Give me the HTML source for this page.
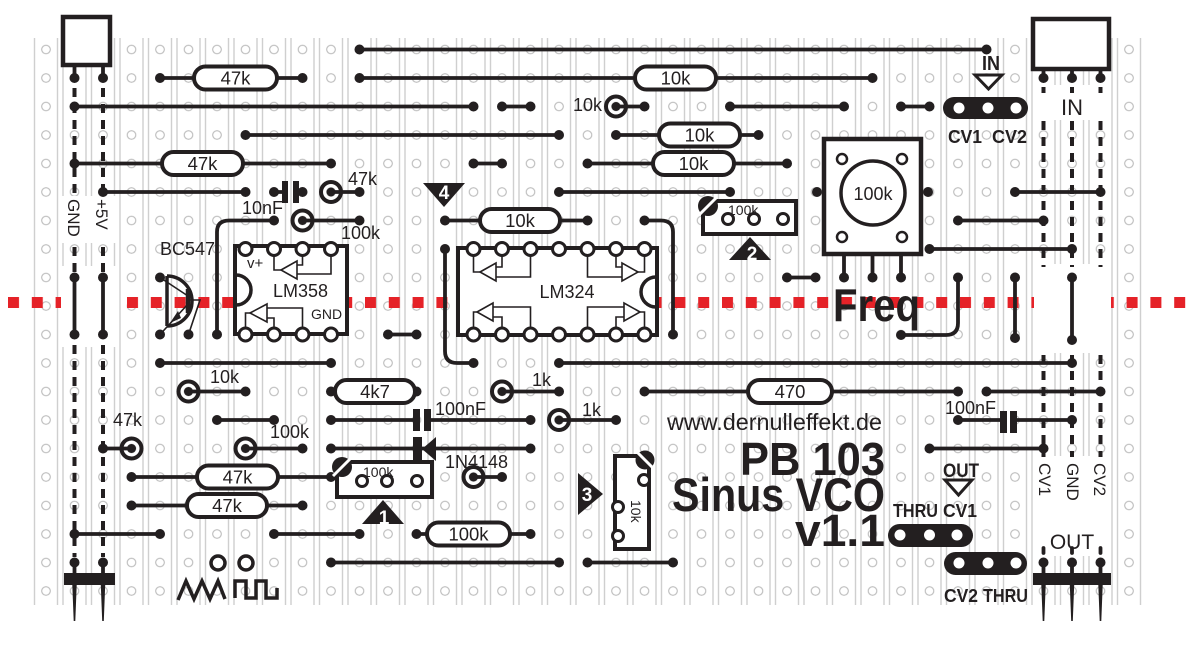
<!DOCTYPE html>
<html><head><meta charset="utf-8"><style>
html,body{margin:0;padding:0;background:#fff;}
svg{display:block;}
.w{stroke:#231f20;stroke-width:3.8;fill:none;stroke-linecap:round;stroke-linejoin:round}
.d{fill:#231f20}
.t{font-family:"Liberation Sans",sans-serif;fill:#231f20}
.b{font-family:"Liberation Sans",sans-serif;font-weight:bold;fill:#231f20}
.r{fill:#fff;stroke:#231f20;stroke-width:4}
.ring{fill:none;stroke:#231f20;stroke-width:4}
.pin{fill:#fff;stroke:#231f20;stroke-width:3}
.th{stroke:#231f20;stroke-width:1.6;fill:none}
.tri{stroke:#231f20;stroke-width:1.6;fill:#fff}
.dash{stroke:#231f20;stroke-width:4;stroke-dasharray:9 7;fill:none}
</style></head><body>
<svg width="1193" height="660" viewBox="0 0 1193 660" xmlns="http://www.w3.org/2000/svg">
<defs>
<pattern id="p" x="31.75" y="35.25" width="28.5" height="28.5" patternUnits="userSpaceOnUse">
<line x1="2.75" y1="0" x2="2.75" y2="28.5" stroke="#c6c6c6" stroke-width="1.2"/>
<line x1="25.75" y1="0" x2="25.75" y2="28.5" stroke="#c6c6c6" stroke-width="1.2"/>
<circle cx="14.25" cy="14.25" r="4.3" fill="none" stroke="#b4b4b4" stroke-width="1"/>
</pattern>
<pattern id="red" x="8" y="297" width="23.8" height="11" patternUnits="userSpaceOnUse">
<rect width="11" height="11" fill="#e52228"/>
</pattern>
</defs>
<rect width="1193" height="660" fill="#fff"/>
<rect x="31.75" y="38" width="1111.5" height="567" fill="url(#p)"/>
<rect x="8" y="297" width="1178" height="11" fill="url(#red)"/>
<!-- white areas -->
<rect x="61" y="196" width="55" height="47" fill="#fff"/>
<rect x="61" y="266" width="55" height="81" fill="#fff"/>
<rect x="1034" y="85" width="77" height="35" fill="#fff"/>
<rect x="1034" y="264" width="77" height="89" fill="#fff"/>
<rect x="1034" y="456" width="77" height="100" fill="#fff"/>

<!-- dashed header wires -->
<path class="dash" d="M74.5,88V196M103,88V196M74.5,247V272M103,247V272M74.5,345V557M103,345V557"/>
<path class="dash" d="M1043.5,87V93M1072,87V93M1100.5,87V93M1043.5,121V267M1072,121V267M1100.5,121V267"/>
<path class="dash" d="M1043.5,355V457M1072,355V457M1100.5,355V457"/>
<path class="w" stroke-linecap="butt" d="M1043.5,548V553M1072,548V553M1100.5,548V553"/>

<!-- horizontal wires -->
<path class="w" d="
M359.5,49.5H986.5
M160,78H302.5 M359.5,78H872.5
M74.5,106.5H473.5 M502,106.5H530.5 M616,106.5H644.5 M730,106.5H844 M901,106.5H929.5
M245.5,135H559 M616,135H758.5
M74.5,163.5H331 M473.5,163.5H502 M587.5,163.5H787
M103,192H245.5 M274,192H283 M298,192H302.5 M331,192H359.5 M559,192H730 M1015,192H1100.5
M302.5,220.5H359.5 M445,220.5H587.5 M958,220.5H1043.5
M929.5,249H1072
M787,277.5H815.5
M388,334.5H416.5
M160,363H331 M559,363H1072
M188.5,391.5H245.5 M331,391.5H416.5 M502,391.5H559 M644.5,391.5H958 M986.5,391.5H1100.5
M217,420H274 M331,420H413 M431,420H530.5 M559,420H616 M958,420H1000 M1017,420H1072
M103,448.5H131.5 M245.5,448.5H302.5 M331,448.5H530.5 M929.5,448.5H1043.5
M131.5,477H331 M473.5,477H502
M131.5,505.5H302.5
M74.5,534H160 M274,534H359.5 M416.5,534H530.5
M331,562.5H559 M587.5,562.5H673
"/>
<!-- vertical / curved wires -->
<path class="w" d="
M217,334.5V232Q217,220.5 229,220.5H274
M644.5,220.5H661Q673,220.5 673,232V334.5
M445,249V351Q445,363 457,363H473.5
M958,277.5V323Q958,335 946,335H901
M1015,277.5V338 M1072,277.5V340
M74.5,277.5V334.5 M103,277.5V334.5
M74.5,65V78 M103,65V78 M1043.5,69V78 M1072,69V78 M1100.5,69V78
M74.5,562.5V585 M103,562.5V585 M1043.5,562.5V585 M1072,562.5V585 M1100.5,562.5V585
M844,254V277.5 M872.5,254V277.5 M901,254V277.5
"/>

<!-- header pins bottom -->
<rect x="64" y="573" width="51" height="12" fill="#231f20"/>
<rect x="1033" y="573" width="78" height="12" fill="#231f20"/>
<g fill="#231f20">
<polygon points="72.3,585 76.7,585 75.3,621 73.7,621"/>
<polygon points="100.8,585 105.2,585 103.8,621 102.2,621"/>
<polygon points="1041.3,585 1045.7,585 1044.3,621 1042.7,621"/>
<polygon points="1069.8,585 1074.2,585 1072.8,621 1071.2,621"/>
<polygon points="1098.3,585 1102.7,585 1101.3,621 1099.7,621"/>
</g>
<!-- header boxes top -->
<rect x="63" y="17" width="47" height="48" fill="#fff" stroke="#231f20" stroke-width="4.5"/>
<rect x="1033" y="19" width="76" height="50" fill="#fff" stroke="#231f20" stroke-width="4.5"/>

<!-- dots -->
<g class="d">
<circle cx="359.5" cy="49.5" r="5"/><circle cx="986.5" cy="49.5" r="5"/>
<circle cx="160" cy="78" r="5"/><circle cx="302.5" cy="78" r="5"/><circle cx="359.5" cy="78" r="5"/><circle cx="872.5" cy="78" r="5"/>
<circle cx="74.5" cy="78" r="5"/><circle cx="103" cy="78" r="5"/><circle cx="1043.5" cy="78" r="5"/><circle cx="1072" cy="78" r="5"/><circle cx="1100.5" cy="78" r="5"/>
<circle cx="74.5" cy="106.5" r="5"/><circle cx="473.5" cy="106.5" r="5"/><circle cx="502" cy="106.5" r="5"/><circle cx="530.5" cy="106.5" r="5"/><circle cx="644.5" cy="106.5" r="5"/><circle cx="730" cy="106.5" r="5"/><circle cx="844" cy="106.5" r="5"/><circle cx="901" cy="106.5" r="5"/><circle cx="929.5" cy="106.5" r="5"/>
<circle cx="245.5" cy="135" r="5"/><circle cx="559" cy="135" r="5"/><circle cx="616" cy="135" r="5"/><circle cx="758.5" cy="135" r="5"/>
<circle cx="74.5" cy="163.5" r="5"/><circle cx="331" cy="163.5" r="5"/><circle cx="473.5" cy="163.5" r="5"/><circle cx="502" cy="163.5" r="5"/><circle cx="587.5" cy="163.5" r="5"/><circle cx="787" cy="163.5" r="5"/>
<circle cx="103" cy="192" r="5"/><circle cx="245.5" cy="192" r="5"/><circle cx="274" cy="192" r="5"/><circle cx="302.5" cy="192" r="5"/><circle cx="359.5" cy="192" r="5"/><circle cx="559" cy="192" r="5"/><circle cx="730" cy="192" r="5"/><circle cx="817" cy="192" r="5"/><circle cx="928" cy="192" r="5"/><circle cx="1015" cy="192" r="5"/><circle cx="1100.5" cy="192" r="5"/>
<circle cx="274" cy="220.5" r="5"/><circle cx="359.5" cy="220.5" r="5"/><circle cx="445" cy="220.5" r="5"/><circle cx="587.5" cy="220.5" r="5"/><circle cx="644.5" cy="220.5" r="5"/><circle cx="958" cy="220.5" r="5"/><circle cx="1043.5" cy="220.5" r="5"/>
<circle cx="929.5" cy="249" r="5"/><circle cx="1072" cy="249" r="5"/><circle cx="445" cy="249" r="5"/>
<circle cx="787" cy="277.5" r="5"/><circle cx="815.5" cy="277.5" r="5"/><circle cx="160" cy="277.5" r="5"/><circle cx="74.5" cy="277.5" r="5"/><circle cx="103" cy="277.5" r="5"/><circle cx="958" cy="277.5" r="5"/><circle cx="1015" cy="277.5" r="5"/><circle cx="1072" cy="277.5" r="5"/><circle cx="844" cy="277.5" r="5"/><circle cx="872.5" cy="277.5" r="5"/><circle cx="901" cy="277.5" r="5"/>
<circle cx="388" cy="334.5" r="5"/><circle cx="416.5" cy="334.5" r="5"/><circle cx="160" cy="334.5" r="5"/><circle cx="188.5" cy="334.5" r="5"/><circle cx="217" cy="334.5" r="5"/><circle cx="673" cy="334.5" r="5"/><circle cx="901" cy="335" r="5"/><circle cx="74.5" cy="334.5" r="5"/><circle cx="103" cy="334.5" r="5"/><circle cx="1015" cy="338" r="5"/><circle cx="1072" cy="340" r="5"/>
<circle cx="473.5" cy="363" r="5"/><circle cx="160" cy="363" r="5"/><circle cx="331" cy="363" r="5"/><circle cx="559" cy="363" r="5"/><circle cx="1072" cy="363" r="5"/>
<circle cx="245.5" cy="391.5" r="5"/><circle cx="331" cy="391.5" r="5"/><circle cx="416.5" cy="391.5" r="5"/><circle cx="559" cy="391.5" r="5"/><circle cx="644.5" cy="391.5" r="5"/><circle cx="958" cy="391.5" r="5"/><circle cx="986.5" cy="391.5" r="5"/><circle cx="1100.5" cy="391.5" r="5"/>
<circle cx="217" cy="420" r="5"/><circle cx="274" cy="420" r="5"/><circle cx="331" cy="420" r="5"/><circle cx="530.5" cy="420" r="5"/><circle cx="616" cy="420" r="5"/><circle cx="958" cy="420" r="5"/><circle cx="1072" cy="420" r="5"/>
<circle cx="103" cy="448.5" r="5"/><circle cx="302.5" cy="448.5" r="5"/><circle cx="331" cy="448.5" r="5"/><circle cx="530.5" cy="448.5" r="5"/><circle cx="929.5" cy="448.5" r="5"/><circle cx="1043.5" cy="448.5" r="5"/>
<circle cx="131.5" cy="477" r="5"/><circle cx="331" cy="477" r="5"/><circle cx="502" cy="477" r="5"/>
<circle cx="131.5" cy="505.5" r="5"/><circle cx="302.5" cy="505.5" r="5"/>
<circle cx="74.5" cy="534" r="5"/><circle cx="160" cy="534" r="5"/><circle cx="274" cy="534" r="5"/><circle cx="359.5" cy="534" r="5"/><circle cx="416.5" cy="534" r="5"/><circle cx="530.5" cy="534" r="5"/>
<circle cx="331" cy="562.5" r="5"/><circle cx="559" cy="562.5" r="5"/><circle cx="587.5" cy="562.5" r="5"/><circle cx="673" cy="562.5" r="5"/><circle cx="74.5" cy="562.5" r="5"/><circle cx="103" cy="562.5" r="5"/><circle cx="1043.5" cy="562.5" r="5"/><circle cx="1072" cy="562.5" r="5"/><circle cx="1100.5" cy="562.5" r="5"/>
</g>

<!-- vertical resistors (rings) -->
<g>
<circle class="ring" cx="616" cy="106.5" r="10"/><circle class="d" cx="616" cy="106.5" r="4.5"/>
<circle class="ring" cx="331" cy="192" r="10"/><circle class="d" cx="331" cy="192" r="4.5"/>
<circle class="ring" cx="302.5" cy="220.5" r="10"/><circle class="d" cx="302.5" cy="220.5" r="4.5"/>
<circle class="ring" cx="188.5" cy="391.5" r="10"/><circle class="d" cx="188.5" cy="391.5" r="4.5"/>
<circle class="ring" cx="502" cy="391.5" r="10"/><circle class="d" cx="502" cy="391.5" r="4.5"/>
<circle class="ring" cx="559" cy="420" r="10"/><circle class="d" cx="559" cy="420" r="4.5"/>
<circle class="ring" cx="131.5" cy="448.5" r="10"/><circle class="d" cx="131.5" cy="448.5" r="4.5"/>
<circle class="ring" cx="245.5" cy="448.5" r="10"/><circle class="d" cx="245.5" cy="448.5" r="4.5"/>
<circle class="ring" cx="473.5" cy="477" r="10"/><circle class="d" cx="473.5" cy="477" r="4.5"/>
</g>

<!-- axial resistors -->
<g>
<rect class="r" x="194" y="66.5" width="83" height="23" rx="11.5"/>
<rect class="r" x="635" y="66.5" width="81" height="23" rx="11.5"/>
<rect class="r" x="659" y="123.5" width="81" height="23" rx="11.5"/>
<rect class="r" x="162" y="152" width="81" height="23" rx="11.5"/>
<rect class="r" x="653" y="152" width="81" height="23" rx="11.5"/>
<rect class="r" x="480" y="209" width="80" height="23" rx="11.5"/>
<rect class="r" x="335" y="380" width="80" height="23" rx="11.5"/>
<rect class="r" x="748" y="380" width="84" height="23" rx="11.5"/>
<rect class="r" x="197" y="465.5" width="81" height="23" rx="11.5"/>
<rect class="r" x="187" y="494" width="80" height="23" rx="11.5"/>
<rect class="r" x="427" y="522.5" width="83" height="23" rx="11.5"/>
</g>
<g class="t" font-size="18.5" text-anchor="middle">
<text x="235.5" y="84.5">47k</text>
<text x="675.5" y="84.5">10k</text>
<text x="699.5" y="141.5">10k</text>
<text x="202.5" y="170">47k</text>
<text x="693.5" y="170">10k</text>
<text x="520" y="227">10k</text>
<text x="375" y="398">4k7</text>
<text x="790" y="398">470</text>
<text x="237.5" y="483.5">47k</text>
<text x="227" y="512">47k</text>
<text x="468.5" y="540.5">100k</text>
</g>

<!-- capacitors -->
<g fill="#231f20">
<rect x="282" y="181" width="6" height="22"/><rect x="293" y="181" width="6" height="22"/>
<rect x="413" y="409" width="7" height="22"/><rect x="424" y="409" width="7" height="22"/>
<rect x="1000" y="411" width="7" height="22"/><rect x="1010" y="411" width="7" height="22"/>
</g>

<!-- LM358 -->
<rect x="235" y="246" width="112" height="88" fill="#fff" stroke="#231f20" stroke-width="4"/>
<path d="M236,275A15,15 0 0 1 236,305" fill="none" stroke="#231f20" stroke-width="3.5"/>
<path class="th" d="M274,255V270H281M297,265H302.5V255M297,274H331V255"/>
<polygon class="tri" points="281,270 297,261 297,279"/>
<path class="th" d="M245.5,328V313H250M267,308H302.5V328M267,318H274V328"/>
<polygon class="tri" points="250,313 267,304 267,322"/>
<g class="pin">
<circle cx="245.5" cy="249" r="6.5"/><circle cx="274" cy="249" r="6.5"/><circle cx="302.5" cy="249" r="6.5"/><circle cx="331" cy="249" r="6.5"/>
<circle cx="245.5" cy="334.5" r="6.5"/><circle cx="274" cy="334.5" r="6.5"/><circle cx="302.5" cy="334.5" r="6.5"/><circle cx="331" cy="334.5" r="6.5"/>
</g>
<text class="t" x="247" y="268" font-size="15">v+</text>
<text class="t" x="273" y="297" font-size="18">LM358</text>
<text class="t" x="311" y="319" font-size="14">GND</text>

<!-- LM324 -->
<rect x="458" y="248" width="199" height="87" fill="#fff" stroke="#231f20" stroke-width="4"/>
<path d="M656,277A15,15 0 0 0 656,307" fill="none" stroke="#231f20" stroke-width="3.5"/>
<path class="th" d="M473.5,255V272H480M496,267H502V255M496,277H530.5V255"/>
<polygon class="tri" points="480,272 496,263 496,281"/>
<path class="th" d="M644.5,255V272H638M622,267H616V255M622,277H587.5V255"/>
<polygon class="tri" points="638,272 622,263 622,281"/>
<path class="th" d="M473.5,328V312H477M493,317H502V328M493,307H530.5V328"/>
<polygon class="tri" points="477,312 493,303 493,321"/>
<path class="th" d="M644.5,328V312H640M624,317H616V328M624,307H587.5V328"/>
<polygon class="tri" points="640,312 624,303 624,321"/>
<g class="pin">
<circle cx="473.5" cy="249" r="6.5"/><circle cx="502" cy="249" r="6.5"/><circle cx="530.5" cy="249" r="6.5"/><circle cx="559" cy="249" r="6.5"/><circle cx="587.5" cy="249" r="6.5"/><circle cx="616" cy="249" r="6.5"/><circle cx="644.5" cy="249" r="6.5"/>
<circle cx="473.5" cy="334.5" r="6.5"/><circle cx="502" cy="334.5" r="6.5"/><circle cx="530.5" cy="334.5" r="6.5"/><circle cx="559" cy="334.5" r="6.5"/><circle cx="587.5" cy="334.5" r="6.5"/><circle cx="616" cy="334.5" r="6.5"/><circle cx="644.5" cy="334.5" r="6.5"/>
</g>
<text class="t" x="567" y="298" font-size="18" text-anchor="middle">LM324</text>

<!-- BC547 -->
<path d="M167,276V326M167,276A25,25 0 0 1 167,326" fill="none" stroke="#231f20" stroke-width="3.5"/>
<path d="M188,289V313" stroke="#231f20" stroke-width="4.5"/>
<path class="th" stroke-width="2" d="M160,277.5L188,296M188,304L160,334.5M188,300H200L188.5,334.5"/>
<polygon points="170,323 178,311 181,318" fill="#231f20"/>
<text class="t" x="160" y="255" font-size="18">BC547</text>

<!-- Pot -->
<rect x="824" y="139" width="97" height="115" fill="#fff" stroke="#231f20" stroke-width="4.5"/>
<circle cx="873" cy="193" r="32" fill="none" stroke="#231f20" stroke-width="3.5"/>
<g fill="#fff" stroke="#231f20" stroke-width="2.5">
<circle cx="842" cy="159" r="5"/><circle cx="902" cy="159" r="5"/><circle cx="842" cy="237" r="5"/><circle cx="902" cy="237" r="5"/>
</g>
<text class="t" x="873" y="200" font-size="18" text-anchor="middle">100k</text>
<text class="b" x="833" y="321" font-size="46" textLength="87" lengthAdjust="spacingAndGlyphs">Freq</text>

<!-- Diode -->
<rect x="413" y="437" width="9" height="26" fill="#231f20"/>
<polygon points="422,449 436,437 436,461" fill="#231f20"/>

<!-- Trimmers -->
<rect x="703" y="201" width="93" height="33" fill="#fff" stroke="#231f20" stroke-width="4"/>
<circle cx="708" cy="206" r="10" fill="#231f20"/>
<line x1="699" y1="215" x2="717" y2="197" stroke="#fff" stroke-width="3"/>
<g class="pin" stroke-width="2.5"><circle cx="728" cy="219" r="5.5"/><circle cx="754" cy="219" r="5.5"/><circle cx="783" cy="219" r="5.5"/></g>
<text class="t" x="728" y="215" font-size="14">100k</text>

<rect x="337" y="462" width="95" height="35" fill="#fff" stroke="#231f20" stroke-width="4"/>
<circle cx="342" cy="467" r="10" fill="#231f20"/>
<line x1="333" y1="476" x2="351" y2="458" stroke="#fff" stroke-width="3"/>
<g class="pin" stroke-width="2.5"><circle cx="362" cy="481" r="5.5"/><circle cx="387" cy="481" r="5.5"/><circle cx="417" cy="481" r="5.5"/></g>
<text class="t" x="363" y="477" font-size="14">100k</text>

<rect x="615" y="456" width="34" height="93" fill="#fff" stroke="#231f20" stroke-width="4"/>
<circle cx="645" cy="460" r="9.5" fill="#231f20"/>
<line x1="637" y1="452" x2="653" y2="468" stroke="#fff" stroke-width="3"/>
<g class="pin" stroke-width="2.5"><circle cx="644" cy="480" r="5.5"/><circle cx="618" cy="507" r="5.5"/><circle cx="618" cy="536" r="5.5"/></g>
<text class="t" font-size="14" transform="translate(631,500) rotate(90)">10k</text>

<!-- triangle markers -->
<polygon points="383,500 362,524 404,524" fill="#231f20"/>
<text class="b" x="384" y="524" font-size="19" fill="#fff" style="fill:#fff" text-anchor="middle">1</text>
<polygon points="750,237 729,260 771,260" fill="#231f20"/>
<text class="b" x="752" y="260" font-size="19" style="fill:#fff" text-anchor="middle">2</text>
<polygon points="578,473 603,494 578,515" fill="#231f20"/>
<text class="b" x="587" y="501" font-size="19" style="fill:#fff" text-anchor="middle">3</text>
<polygon points="423,183 465,183 444,207" fill="#231f20"/>
<text class="b" x="444" y="199" font-size="19" style="fill:#fff" text-anchor="middle">4</text>

<!-- waveforms -->
<circle cx="218" cy="563" r="7" fill="#fff" stroke="#231f20" stroke-width="3.5"/>
<circle cx="246" cy="563" r="7" fill="#fff" stroke="#231f20" stroke-width="3.5"/>
<path d="M178,600L186,581L194,599L202,581L210,599L218,581L225,599" fill="none" stroke="#231f20" stroke-width="3.5" stroke-linejoin="miter"/>
<path d="M235,598V581H246V598H256V581H266V598H277V588" fill="none" stroke="#231f20" stroke-width="3.5"/>

<!-- jumper selectors -->
<rect x="943" y="97" width="85" height="22" rx="11" fill="#231f20"/>
<g fill="#fff"><circle cx="959" cy="108" r="5.5"/><circle cx="988" cy="108" r="5.5"/><circle cx="1016" cy="108" r="5.5"/></g>
<text class="b" x="991" y="70" font-size="20" text-anchor="middle" textLength="18" lengthAdjust="spacingAndGlyphs">IN</text>
<polygon points="975,75 1002,75 988.5,89" fill="#fff" stroke="#231f20" stroke-width="3"/>
<text class="b" x="948" y="143" font-size="18" textLength="34" lengthAdjust="spacingAndGlyphs">CV1</text>
<text class="b" x="992" y="143" font-size="18" textLength="35" lengthAdjust="spacingAndGlyphs">CV2</text>

<rect x="888" y="524" width="85" height="23" rx="11.5" fill="#231f20"/>
<g fill="#fff"><circle cx="900" cy="535" r="5.5"/><circle cx="929.5" cy="535" r="5.5"/><circle cx="957" cy="535" r="5.5"/></g>
<text class="b" x="943" y="477" font-size="19" textLength="36" lengthAdjust="spacingAndGlyphs">OUT</text>
<polygon points="945,480 972,480 958.5,495" fill="#fff" stroke="#231f20" stroke-width="3"/>
<text class="b" x="893" y="517" font-size="18" textLength="45" lengthAdjust="spacingAndGlyphs">THRU</text>
<text class="b" x="943" y="517" font-size="18" textLength="34" lengthAdjust="spacingAndGlyphs">CV1</text>

<rect x="944" y="552" width="83" height="23" rx="11.5" fill="#231f20"/>
<g fill="#fff"><circle cx="959" cy="563" r="5.5"/><circle cx="988" cy="563" r="5.5"/><circle cx="1016" cy="563" r="5.5"/></g>
<text class="b" x="944" y="602" font-size="18" textLength="34" lengthAdjust="spacingAndGlyphs">CV2</text>
<text class="b" x="983" y="602" font-size="18" textLength="45" lengthAdjust="spacingAndGlyphs">THRU</text>

<!-- header labels -->
<text class="t" font-size="17" transform="translate(68,199) rotate(90)">GND</text>
<text class="t" font-size="17" transform="translate(96,199) rotate(90)">+5V</text>
<text class="t" x="1072" y="115" font-size="22" text-anchor="middle">IN</text>
<text class="t" font-size="17" transform="translate(1039,463) rotate(90)">CV1</text>
<text class="t" font-size="17" transform="translate(1067,463) rotate(90)">GND</text>
<text class="t" font-size="17" transform="translate(1094,463) rotate(90)">CV2</text>
<text class="t" x="1072" y="549" font-size="21" text-anchor="middle">OUT</text>

<!-- component labels -->
<g class="t" font-size="18">
<text x="242" y="214">10nF</text>
<text x="348" y="185">47k</text>
<text x="341" y="239">100k</text>
<text x="573" y="111">10k</text>
<text x="210" y="383">10k</text>
<text x="532" y="386">1k</text>
<text x="113" y="426">47k</text>
<text x="270" y="438">100k</text>
<text x="435" y="415">100nF</text>
<text x="582" y="416">1k</text>
<text x="445" y="468">1N4148</text>
<text x="945" y="414">100nF</text>
</g>

<!-- title -->
<text class="t" x="667" y="430" font-size="23" textLength="215" lengthAdjust="spacingAndGlyphs">www.dernulleffekt.de</text>
<text class="b" x="885" y="475" font-size="46" text-anchor="end" textLength="145" lengthAdjust="spacingAndGlyphs">PB 103</text>
<text class="b" x="885" y="511" font-size="47" text-anchor="end" textLength="213" lengthAdjust="spacingAndGlyphs">Sinus VCO</text>
<text class="b" x="885" y="546" font-size="45" text-anchor="end" textLength="90" lengthAdjust="spacingAndGlyphs">v1.1</text>
</svg>
</body></html>
